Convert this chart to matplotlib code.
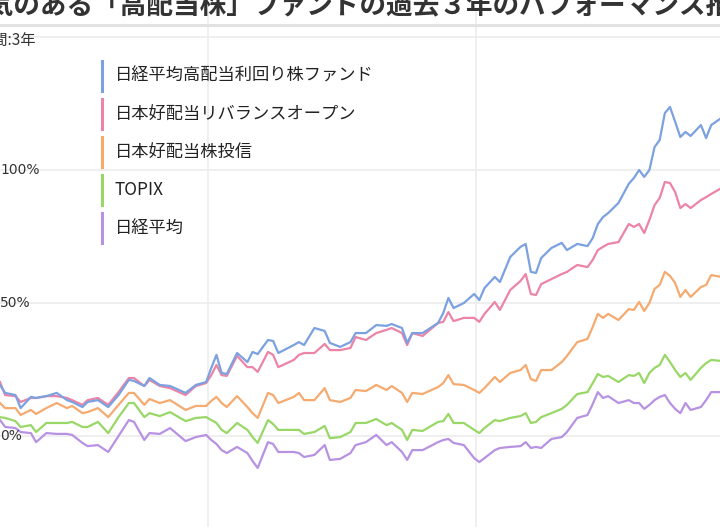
import matplotlib
matplotlib.use("Agg")
import matplotlib.pyplot as plt
from matplotlib.lines import Line2D

plt.rcParams['font.family'] = ['Noto Sans CJK JP', 'DejaVu Sans']

# week index of each sample (weekly data, ~52 weeks per year)
weeks = [0, 1, 3, 4, 6, 7, 9, 11, 13, 14, 16, 17, 19, 21, 23, 25, 26, 28, 29, 31,
         33, 36, 38, 40, 41, 42, 43, 44, 46, 48, 49, 50, 52, 53, 54, 57, 58, 59, 61, 63,
         64, 66, 68, 69, 71, 73, 75, 76, 78, 79, 80, 82, 85, 86, 87, 88, 90, 92, 93, 94,
         96, 97, 99, 101, 102, 103, 104, 105, 107, 109, 110, 112, 114, 115, 116, 117, 118, 120, 122, 123,
         124, 125, 126, 127, 128, 129, 130, 131, 132, 133, 134, 136, 137, 138, 140]

nikkei_high_div = [19.2, 16.2, 15.4, 10.5, 14.7, 14.3, 15.0, 16.2, 13.5, 12.8,
                   10.9, 12.8, 13.5, 10.9, 15.4, 21.1, 20.7, 18.8, 21.8, 19.2,
                   18.8, 16.2, 19.2, 20.3, 25.6, 30.5, 23.7, 23.3, 31.2, 27.8,
                   31.6, 30.8, 36.1, 35.7, 31.2, 34.2, 35.3, 34.2, 40.6, 39.5,
                   35.0, 33.5, 35.3, 38.7, 38.7, 41.7, 41.4, 42.1, 40.6, 35.0,
                   38.7, 38.7, 42.5, 46.2, 51.9, 48.1, 50.0, 53.4, 51.1, 55.6,
                   59.8, 57.9, 67.3, 71.1, 72.2, 61.7, 61.3, 66.9, 70.7, 72.6,
                   69.9, 72.2, 71.4, 74.4, 79.7, 82.3, 83.8, 87.6, 94.8, 97.0,
                   100.0, 97.4, 100.0, 108.6, 111.3, 121.4, 123.7, 118.1, 112.4, 114.3,
                   112.8, 116.9, 112.0, 116.9, 119.6]

rebalance_open = [20.3, 15.4, 15.0, 12.8, 14.3, 14.3, 15.0, 15.0, 14.3, 13.5,
                  11.7, 13.5, 14.3, 11.7, 16.5, 21.8, 21.8, 18.8, 21.1, 18.8,
                  18.0, 15.4, 18.8, 19.9, 22.9, 26.7, 22.9, 22.6, 30.1, 25.9,
                  25.9, 24.1, 31.6, 30.5, 25.9, 28.6, 30.5, 31.2, 31.2, 34.6,
                  32.3, 32.3, 33.1, 37.2, 36.1, 38.7, 39.9, 40.6, 38.7, 34.2,
                  38.7, 37.6, 42.5, 42.9, 46.6, 43.2, 44.4, 44.4, 42.9, 45.9,
                  50.4, 47.4, 54.9, 58.3, 60.9, 53.4, 53.0, 57.1, 59.0, 60.9,
                  61.7, 64.3, 63.5, 66.2, 69.9, 71.1, 72.2, 72.9, 79.7, 78.6,
                  79.7, 76.3, 81.2, 86.8, 89.5, 95.5, 95.1, 91.7, 85.7, 87.2,
                  85.7, 88.7, 89.8, 91.0, 93.2]

good_div_fund = [12.4, 10.5, 10.5, 7.9, 9.8, 8.3, 10.5, 12.4, 10.5, 11.3,
                 8.6, 9.0, 10.5, 7.1, 11.7, 16.2, 16.2, 11.7, 13.9, 12.4,
                 13.5, 9.8, 11.3, 11.3, 13.2, 14.7, 12.4, 10.9, 15.0, 10.9,
                 8.6, 6.8, 16.2, 15.4, 12.4, 14.7, 16.2, 13.5, 13.5, 18.0,
                 13.5, 12.8, 14.3, 17.3, 16.9, 19.2, 17.3, 18.8, 16.2, 12.8,
                 16.2, 15.8, 18.4, 19.9, 22.9, 19.5, 19.2, 17.3, 16.2, 18.0,
                 22.2, 20.3, 23.7, 24.8, 26.7, 21.4, 20.7, 24.8, 24.8, 27.8,
                 30.1, 35.3, 36.5, 41.0, 45.9, 44.4, 45.9, 43.6, 47.7, 47.4,
                 50.4, 47.0, 50.0, 55.3, 56.8, 61.7, 60.2, 57.5, 52.3, 54.9,
                 52.3, 56.0, 56.8, 60.5, 59.8]

topix = [7.1, 6.8, 5.6, 3.4, 4.1, 1.5, 4.9, 4.9, 4.9, 5.3,
         3.4, 3.4, 5.3, 1.1, 7.1, 12.4, 12.4, 7.1, 8.6, 7.5,
         9.0, 5.6, 6.8, 7.1, 6.0, 4.9, 2.3, 1.1, 4.9, 2.3,
         -0.4, -2.6, 6.0, 4.5, 2.3, 2.3, 2.3, 0.8, 1.5, 3.8,
         -0.8, -0.4, 1.5, 4.9, 4.9, 6.4, 4.1, 4.9, 2.3, -1.5,
         2.3, 1.9, 5.3, 5.6, 8.3, 4.9, 4.9, 2.3, 1.1, 3.0,
         6.0, 5.6, 6.8, 7.5, 8.6, 4.9, 5.3, 7.1, 8.6, 10.2,
         11.7, 15.8, 16.5, 19.9, 23.3, 22.2, 22.6, 20.3, 22.9, 22.6,
         23.7, 19.9, 23.7, 25.6, 26.7, 30.5, 27.8, 24.8, 22.2, 23.7,
         21.1, 25.6, 27.4, 28.6, 28.2]

nikkei225 = [6.0, 3.4, 3.0, 1.5, 1.1, -2.3, 1.1, 0.8, 0.8, 0.4,
             -2.6, -3.8, -3.4, -6.0, 0.0, 6.0, 5.3, -1.5, 1.1, 0.8,
             3.0, -1.9, -0.4, 0.4, -1.5, -3.0, -5.3, -6.4, -4.1, -6.4,
             -9.4, -12.0, -2.3, -3.0, -6.0, -6.0, -6.4, -7.9, -7.1, -3.4,
             -9.0, -8.6, -6.4, -3.4, -2.3, 0.4, -3.4, -2.3, -6.0, -9.0,
             -5.3, -5.3, -2.3, -1.5, -1.1, -2.6, -3.4, -8.3, -9.8, -8.3,
             -5.3, -4.5, -4.1, -3.8, -2.3, -4.5, -4.1, -4.5, -1.1, -0.4,
             1.5, 6.8, 7.9, 12.0, 16.5, 14.3, 15.0, 12.4, 13.5, 12.4,
             12.4, 10.2, 11.7, 13.5, 14.7, 15.4, 12.4, 10.2, 8.6, 12.4,
             9.8, 10.9, 13.5, 16.5, 16.5]

names = ["日経平均高配当利回り株ファンド", "日本好配当リバランスオープン",
         "日本好配当株投信", "TOPIX", "日経平均"]
series = [nikkei_high_div, rebalance_open, good_div_fund, topix, nikkei225]
colors = ["#7ba1e0", "#eb84a6", "#f5aa70", "#99d767", "#b792e2"]

ytick_vals = [0, 50, 100, 150]
ytick_labels = ["0%", "50%", "100%", ""]
year_lines = [40.4, 92.4]

W, H = 720, 527


def fx(px):
    return px / W


def fy(py):
    return 1 - py / H


fig = plt.figure(figsize=(7.2, 5.27), dpi=100)
ax = fig.add_axes([0, 0, 1, 1])
ax.set_xlim(0, 139.7)
ax.set_ylim(-34.2, 163.9)

for v in ytick_vals:
    ax.axhline(v, color="#ececec", lw=1.2, zorder=0)
for v in year_lines:
    ax.plot([v, v], [-40, 159.5], color="#ececec", lw=1.2, zorder=0)

for vals, c in zip(series[::-1], colors[::-1]):
    ax.plot(weeks, vals, color=c, lw=1.6, solid_joinstyle="round")

for v, lab in zip(ytick_vals, ytick_labels):
    ax.text(0.0, v, lab, transform=ax.get_yaxis_transform(), ha="left",
            va="center", fontsize=10, family="DejaVu Sans", color="#333333")

ax.axis("off")

# header
fig.text(fx(-40), fy(6), "人気のある「高配当株」ファンドの過去３年のパフォーマンス推移",
         fontsize=19.2, fontweight="bold", color="#333333", ha="left", va="center")
fig.add_artist(Line2D([0, 1], [fy(25), fy(25)], color="#e2e2e2", lw=2.2,
                      transform=fig.transFigure))
fig.text(fx(36), fy(40), "期間:3年", fontsize=11, color="#333333",
         ha="right", va="center")

# custom legend
for i, (n, c) in enumerate(zip(names, colors)):
    yc = 76 + i * 38
    fig.add_artist(Line2D([fx(102), fx(102)], [fy(yc - 15), fy(yc + 15)],
                          color=c, lw=2.2, transform=fig.transFigure))
    fig.text(fx(115), fy(yc), n, fontsize=12.4, color="#222222",
             ha="left", va="center")

fig.savefig("out.png", dpi=100)
